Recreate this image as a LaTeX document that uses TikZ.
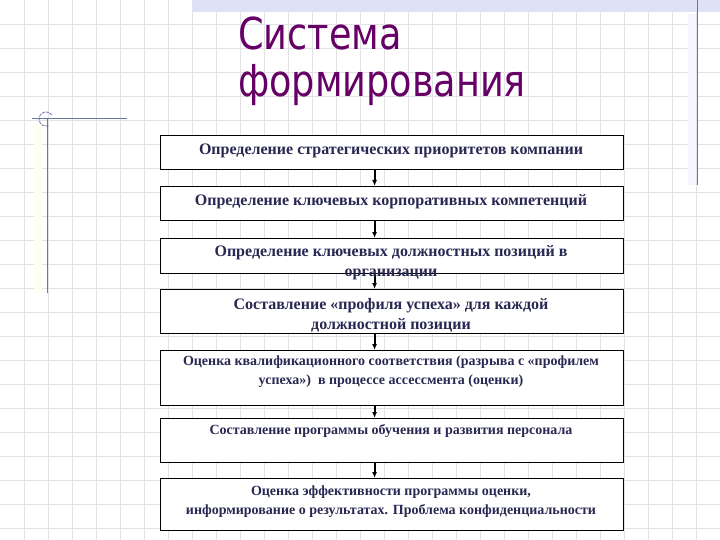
\documentclass[tikz,border=0pt]{standalone}
\usepackage{fontspec}
\setmainfont{Liberation Serif}
\newfontfamily\titlefont{DejaVu Sans Condensed}
\definecolor{gridc}{RGB}{226,226,230}
\definecolor{bandc}{RGB}{222,226,246}
\definecolor{linec}{RGB}{105,118,160}
\definecolor{titlec}{RGB}{102,0,102}
\definecolor{textc}{RGB}{40,40,82}
\tikzset{
  stage/.style={draw=black, line width=1.2pt, fill=white, minimum width=463pt, inner sep=0pt, anchor=north west},
  big/.style={text=textc, font=\fontsize{16}{20}\selectfont\bfseries, align=center, inner sep=0pt},
  small/.style={text=textc, font=\fontsize{14}{19}\selectfont\bfseries, align=center, inner sep=0pt},
  flow/.style={-{Latex[length=6pt,width=5pt]}, line width=2pt, black},
  titletext/.style={anchor=base west, text=titlec, inner sep=0pt}
}
\usetikzlibrary{arrows.meta}
\begin{document}
\begin{tikzpicture}[x=1pt,y=-1pt]
\useasboundingbox (0,0) rectangle (720,540);
\fill[white] (0,0) rectangle (720,540);
% grid
\foreach \i in {1,...,29} \draw[gridc, line width=0.8pt] (\i*24,0) -- (\i*24,540);
\foreach \j in {1,...,22} \draw[gridc, line width=0.8pt] (0,\j*24) -- (720,\j*24);
% top band
\fill[bandc] (192,0) rectangle (720,12);
% decoration lines
\fill[yellow!5] (34,124) rectangle (42,293);
\fill[blue!4] (688,14) rectangle (696,185);
\draw[linec, line width=1pt] (697,0) -- (697,185);
\draw[linec, line width=1pt] (32,119) -- (127,119);
\draw[linec, line width=1pt] (47,119) -- (47,293);
\draw[linec, line width=0.8pt, dash pattern=on 3pt off 1pt] (46,119) ++(70:7) arc (70:330:7);
% title
\node[titletext] (title1) at (238,50) {\scalebox{0.925}[1]{\titlefont\fontsize{44}{45}\selectfont Система}};
\node[titletext] (title2) at (238,97) {\scalebox{0.925}[1]{\titlefont\fontsize{44}{45}\selectfont формирования}};
% boxes
\node[stage, minimum height=34pt] (b1) at (160,135) {};
\node[stage, minimum height=34pt] (b2) at (160,186) {};
\node[stage, minimum height=35pt] (b3) at (160,238) {};
\node[stage, minimum height=44pt] (b4) at (160,289) {};
\node[stage, minimum height=55pt] (b5) at (160,350) {};
\node[stage, minimum height=44pt] (b6) at (160,418) {};
\node[stage, minimum height=52pt] (b7) at (160,478) {};
% arrows
\draw[flow] ([xshift=-17.5pt]b1.south) -- ([xshift=-17.5pt]b2.north);
\draw[flow] ([xshift=-17.5pt]b2.south) -- ([xshift=-17.5pt]b3.north);
\draw[flow] ([xshift=-17.5pt]b3.south) -- ([xshift=-17.5pt]b4.north);
\draw[flow] ([xshift=-17.5pt]b4.south) -- ([xshift=-17.5pt]b5.north);
\draw[flow] ([xshift=-17.5pt]b5.south) -- ([xshift=-17.5pt]b6.north);
\draw[flow] ([xshift=-17.5pt]b6.south) -- ([xshift=-17.5pt]b7.north);
% texts
\node[big] (t1) at (391,151) {Определение стратегических приоритетов компании};
\node[big] (t2) at (391,202) {Определение ключевых корпоративных компетенций};
\node[big] (t3) at (391,263) {Определение ключевых должностных позиций в\\организации};
\node[big] (t4) at (391,315) {Составление «профиля успеха» для каждой\\должностной позиции};
\node[small] (t5) at (391,372) {Оценка квалификационного соответствия (разрыва с «профилем\\успеха»)\ \ в процессе ассессмента (оценки)};
\node[small] (t6) at (391,431) {Составление программы обучения и развития персонала};
\node[small] (t7) at (391,502) {Оценка эффективности программы оценки,\\информирование о результатах. Проблема конфиденциальности};
\end{tikzpicture}
\end{document}
